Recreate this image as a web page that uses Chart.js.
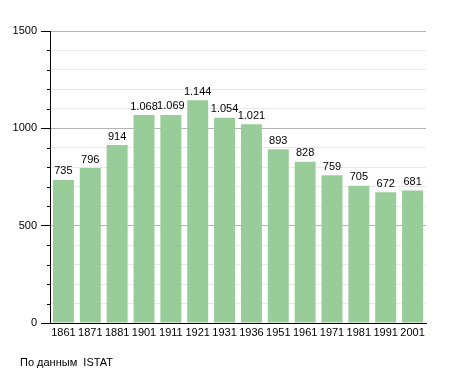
<!DOCTYPE html>
<html>
<head>
<meta charset="utf-8">
<script src="https://cdn.jsdelivr.net/npm/chart.js@4/dist/chart.umd.min.js"></script>
<style>
  body { margin: 0; background: #fff; }
  #wrap { position: relative; width: 455px; height: 373px; }
  #src { position: absolute; left: 20px; top: 356px; font: 11px "Liberation Sans", Arial, sans-serif; color: #000; }
</style>
</head>
<body>
<div id="wrap">
  <canvas id="graphCanvas" width="455" height="373"></canvas>
  <div id="src">По данным&nbsp; ISTAT</div>
</div>
<script>
let years = ['1861', '1871', '1881', '1901', '1911', '1921', '1931', '1936', '1951', '1961', '1971', '1981', '1991', '2001'];
let population = [735, 796, 914, 1068, 1069, 1144, 1054, 1021, 893, 828, 759, 705, 672, 681];
let yTicks = [0, 500, 1000, 1500];

function fmt(n) {
    return n.toString().replace(/\B(?=(\d{3})+(?!\d))/g, '.');
}

// value labels above bars + small minor tick marks
let extras = {
    id: 'extras',
    afterDatasetsDraw(chart) {
        let ctx = chart.ctx;
        let meta = chart.getDatasetMeta(0);
        ctx.save();
        ctx.font = '11px "Liberation Sans", Arial, sans-serif';
        ctx.fillStyle = '#000';
        ctx.textAlign = 'center';
        ctx.textBaseline = 'bottom';
        meta.data.forEach(function(bar, i) {
            ctx.fillText(fmt(population[i]), bar.x, bar.y - 3);
        });
        let y = chart.scales.y;
        let left = chart.chartArea.left;
        ctx.strokeStyle = '#000';
        ctx.lineWidth = 1;
        for (let v = 0; v <= 1500; v += 100) {
            if (v % 500 === 0) continue;
            let py = Math.round(y.getPixelForValue(v)) + 0.5;
            ctx.beginPath();
            ctx.moveTo(left - 3, py);
            ctx.lineTo(left, py);
            ctx.stroke();
        }
        ctx.restore();
    }
};

let chartdata = {
    labels: years,
    datasets: [{
        label: 'population',
        backgroundColor: '#98cc98',
        borderWidth: 0,
        barPercentage: 0.78,
        categoryPercentage: 1,
        data: population
    }]
};

new Chart(document.getElementById('graphCanvas'), {
    type: 'bar',
    data: chartdata,
    options: {
        responsive: false,
        animation: false,
        layout: { padding: { left: 0, right: 29, top: 31, bottom: 30 } },
        plugins: { legend: { display: false }, tooltip: { enabled: false } },
        scales: {
            x: {
                afterFit: function(s) { s.height = 20; },
                grid: { display: false, drawTicks: false, tickLength: 0 },
                border: { color: '#000', width: 1 },
                ticks: { color: '#000', padding: 3, maxRotation: 0, autoSkip: false,
                    font: { family: '"Liberation Sans", Arial, sans-serif', size: 11 } }
            },
            y: {
                min: 0,
                max: 1500,
                afterFit: function(s) { s.width = 50; },
                afterBuildTicks: function(s) {
                    let t = [];
                    for (let v = 0; v <= 1500; v += 100) t.push({ value: v });
                    s.ticks = t;
                },
                border: { color: '#000', width: 1 },
                grid: {
                    color: function(c) { return c.tick && c.tick.value % 500 === 0 ? '#b4b4b4' : '#e8e8e8'; },
                    tickColor: function(c) { return c.tick && c.tick.value % 500 === 0 ? '#000' : 'rgba(0,0,0,0)'; },
                    tickLength: 9
                },
                ticks: {
                    color: '#000',
                    padding: 4,
                    font: { family: '"Liberation Sans", Arial, sans-serif', size: 11 },
                    callback: function(v) { return yTicks.indexOf(v) >= 0 ? v : ''; }
                }
            }
        }
    },
    plugins: [extras]
});
</script>
</body>
</html>
